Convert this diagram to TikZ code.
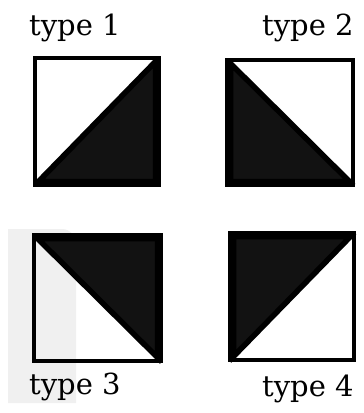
\documentclass[tikz,border=0pt]{standalone}
\usepackage{fontspec}
\setmainfont{DejaVu Serif}
\begin{document}
\begin{tikzpicture}[x=1pt,y=-1pt,
  frame/.style={draw=black,line width=4pt},
  tri/.style={fill=black!93,draw=black,line width=5.5pt,line join=miter},
  lbl/.style={anchor=base west,inner sep=0pt,font=\fontsize{29}{32}\selectfont},
  ghost/.style={fill=black!6}]
\useasboundingbox (0,0) rectangle (364,413);
% faint grey backdrop
\fill[ghost] (8,403) -- (8,229) [rounded corners=14pt] -- (76,229) [sharp corners] -- (76,403) -- cycle;
% type 1
\begin{scope}
\clip (33,56) rectangle (161,187);
\filldraw[tri] (38.5,181.5) -- (155.5,181.5) -- (155.5,61.5) -- cycle;
\end{scope}
\draw[frame] (35,58) rectangle (159,185);
% type 2
\begin{scope}
\clip (225,58) rectangle (355,187);
\filldraw[tri] (230.5,63.5) -- (230.5,181.5) -- (349.5,181.5) -- cycle;
\end{scope}
\draw[frame] (227,60) rectangle (353,185);
% type 3
\begin{scope}
\clip (32,233) rectangle (163,363);
\filldraw[tri] (37.5,238.5) -- (157.5,238.5) -- (157.5,357.5) -- cycle;
\end{scope}
\draw[frame] (34,235) rectangle (161,361);
% type 4
\begin{scope}
\clip (228,231) rectangle (356,362);
\filldraw[tri] (233.5,236.5) -- (350.5,236.5) -- (233.5,356.5) -- cycle;
\end{scope}
\draw[frame] (230,233) rectangle (354,360);
% labels
\node[lbl] (t1) at (29,35) {type 1};
\node[lbl] (t2) at (262,35) {type 2};
\node[lbl] (t3) at (29,394) {type 3};
\node[lbl] (t4) at (262,396) {type 4};
\end{tikzpicture}
\end{document}
